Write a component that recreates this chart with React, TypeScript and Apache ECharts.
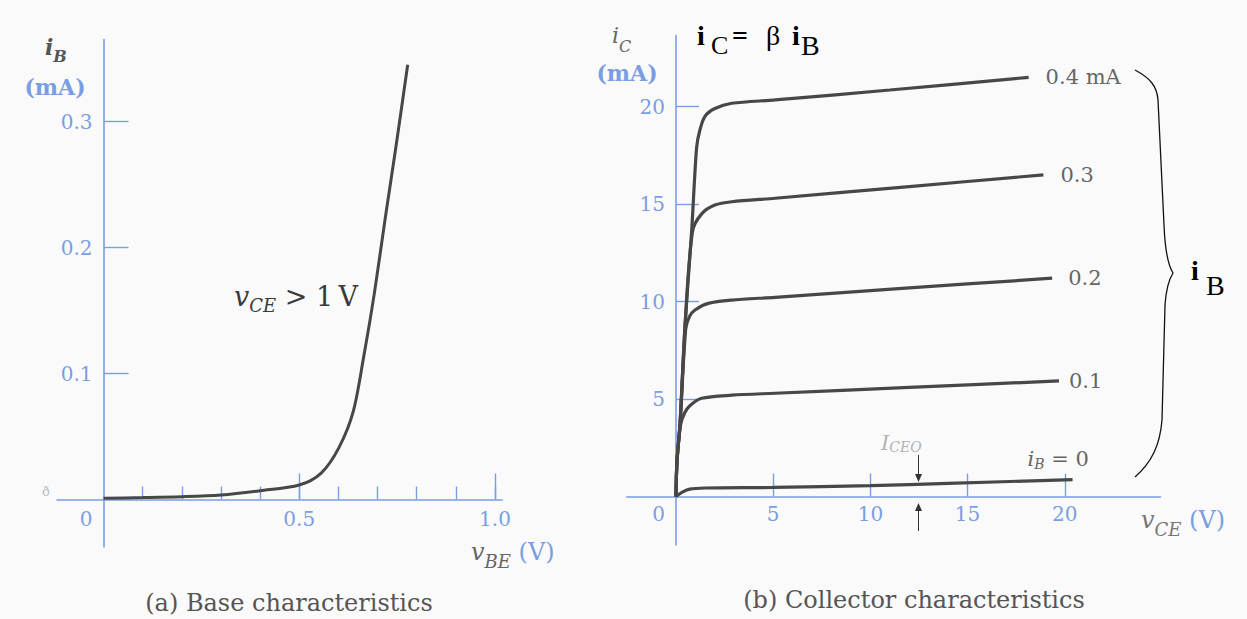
import React, { useEffect, useRef } from "react";
import * as echarts from "echarts";

// ---------- data ----------
// (a) Base characteristics: iB (mA) vs vBE (V)
const baseVBE = [0, 0.1, 0.2, 0.3, 0.4, 0.5, 0.556, 0.601, 0.638, 0.665, 0.692, 0.72, 0.747, 0.777];
const baseIB = [0.001, 0.0015, 0.0022, 0.0036, 0.007, 0.0115, 0.021, 0.041, 0.07, 0.114, 0.164, 0.224, 0.28, 0.345];
const baseXTicks = [0.1, 0.2, 0.3, 0.4, 0.5, 0.6, 0.7, 0.8, 0.9, 1.0];
const baseXMajorTicks = [0.5, 1.0];
const baseXLabels = [0, 0.5, 1.0];
const baseYTicks = [0.1, 0.2, 0.3];

// (b) Collector characteristics: iC (mA) vs vCE (V), one curve per iB
const vce04 = [0, 0.05, 0.21, 0.46, 0.81, 1.06, 1.23, 1.49, 2.0, 2.87, 5.1, 11, 18.14];
const ic04 = [0, 1.8, 3.76, 8.7, 13.7, 17.9, 18.8, 19.5, 19.9, 20.17, 20.34, 20.85, 21.5];
const vce03 = [0, 0.05, 0.21, 0.46, 0.85, 1.32, 2.0, 2.87, 5.1, 12, 18.9];
const ic03 = [0, 1.8, 3.76, 8.7, 13.6, 14.5, 14.95, 15.12, 15.3, 15.9, 16.5];
const vce02 = [0, 0.05, 0.21, 0.5, 0.7, 0.98, 1.66, 2.87, 5.1, 12, 19.35];
const ic02 = [0, 1.8, 3.76, 8.6, 9.25, 9.57, 9.91, 10.08, 10.22, 10.7, 11.2];
const vce01 = [0, 0.05, 0.24, 0.45, 0.7, 1.32, 2.87, 5.1, 12, 19.7];
const ic01 = [0, 1.8, 3.7, 4.3, 4.65, 5.04, 5.2, 5.3, 5.6, 5.93];
const vce00 = [0, 0.3, 0.7, 1.5, 5, 10, 14, 20.4];
const ic00 = [0, 0.22, 0.38, 0.44, 0.47, 0.56, 0.68, 0.87];
const collXTicks = [5, 10, 15, 20];
const collXLabels = [0, 5, 10, 15, 20];
const collYTicks = [5, 10, 15, 20];
const curveLabels = ["0.4 mA", "0.3", "0.2", "0.1", "{i|i}{s|B}{n| = 0}"];

// ---------- styles ----------
const BLUE = "#7a9ee2";
const INK = "#474747";
const SERIF = "'DejaVu Serif', 'Liberation Serif', serif";
const TIMES = "'Liberation Serif', 'Times New Roman', serif";

const BRACE =
  "M1135,70 C1150,78 1157,86 1158,100 L1164,225 C1165,250 1168,265 1173,273 C1168,281 1166,290 1165,305 L1162,420 C1160,445 1152,462 1135,477";
echarts.graphic.registerShape("brace", echarts.graphic.extendPath(BRACE, {}));

const zip = (xs: number[], ys: number[]) => xs.map((x, i) => [x, ys[i]]);

const blueLine = { color: BLUE, width: 1.6 };
const labelBase = { color: BLUE, fontFamily: SERIF, fontSize: 20 };

function buildOption(): any {
  const collectorData = [
    { v: vce04, i: ic04, dist: 17, off: [0, 0] },
    { v: vce03, i: ic03, dist: 17, off: [0, 0] },
    { v: vce02, i: ic02, dist: 16, off: [0, 0] },
    { v: vce01, i: ic01, dist: 10, off: [0, 0] },
    { v: vce00, i: ic00, dist: 5, off: [-50, -21] },
  ];

  const collectorSeries = collectorData.map((c, k) => ({
    type: "line",
    xAxisIndex: 2,
    yAxisIndex: 2,
    data: zip(c.v, c.i),
    smooth: 0.3,
    showSymbol: false,
    silent: true,
    lineStyle: { color: INK, width: 3.2 },
    endLabel: {
      show: true,
      formatter: curveLabels[k],
      distance: c.dist,
      offset: c.off,
      color: "#666",
      fontFamily: SERIF,
      fontSize: 21,
      rich: {
        i: { fontFamily: SERIF, fontSize: 21, fontStyle: "italic", color: "#666" },
        s: { fontFamily: SERIF, fontSize: 14, fontStyle: "italic", color: "#666", padding: [10, 0, 0, 0] },
        n: { fontFamily: SERIF, fontSize: 21, color: "#666" },
      },
    },
  }));

  const zeroRich = { z: { ...labelBase, padding: [0, 35, 0, 0] } };

  return {
    animation: false,
    backgroundColor: "#fafafa",
    grid: [
      { left: 57, top: 39.5, width: 445, height: 507.5 },
      { left: 57, top: 39.5, width: 445, height: 507.5 },
      { left: 626.8, top: 35.5, width: 533.8, height: 509.5 },
    ],
    xAxis: [
      {
        gridIndex: 0,
        type: "value",
        min: -0.1188,
        max: 1.0179,
        axisLine: { onZero: true, lineStyle: blueLine },
        axisTick: { inside: true, length: 13, customValues: baseXTicks, lineStyle: { color: BLUE, width: 1.4 } },
        axisLabel: {
          ...labelBase,
          customValues: baseXLabels,
          margin: -38.5,
          formatter: (v: number) => (v === 0 ? "{z|0}" : v.toFixed(1)),
          rich: zeroRich,
        },
        splitLine: { show: false },
      },
      {
        gridIndex: 1,
        type: "value",
        min: -0.1188,
        max: 1.0179,
        axisLine: { show: false, onZero: true },
        axisTick: { inside: true, length: 26, customValues: baseXMajorTicks, lineStyle: { color: BLUE, width: 1.4 } },
        axisLabel: { show: false },
        splitLine: { show: false },
      },
      {
        gridIndex: 2,
        type: "value",
        min: -2.531,
        max: 24.93,
        axisLine: { onZero: true, lineStyle: blueLine },
        axisTick: { inside: true, length: 23, customValues: collXTicks, lineStyle: { color: BLUE, width: 1.4 } },
        axisLabel: {
          ...labelBase,
          customValues: collXLabels,
          margin: -41.4,
          formatter: (v: number) => (v === 0 ? "{z|0}" : String(v)),
          rich: zeroRich,
        },
        splitLine: { show: false },
      },
    ],
    yAxis: [
      {
        gridIndex: 0,
        type: "value",
        min: -0.0377,
        max: 0.3651,
        axisLine: { onZero: true, lineStyle: blueLine },
        axisTick: { inside: true, length: 25, customValues: baseYTicks, lineStyle: { color: BLUE, width: 1.4 } },
        axisLabel: { ...labelBase, customValues: baseYTicks, margin: -35.5, formatter: (v: number) => v.toFixed(1) },
        splitLine: { show: false },
      },
      { gridIndex: 1, type: "value", min: -0.0377, max: 0.3651, show: false },
      {
        gridIndex: 2,
        type: "value",
        min: -2.482,
        max: 23.646,
        axisLine: { onZero: true, lineStyle: blueLine },
        axisTick: { inside: true, length: 23, customValues: collYTicks, lineStyle: { color: BLUE, width: 1.4 } },
        axisLabel: { ...labelBase, customValues: collYTicks, margin: -38.2 },
        splitLine: { show: false },
      },
    ],
    series: [
      {
        type: "line",
        xAxisIndex: 0,
        yAxisIndex: 0,
        data: zip(baseVBE, baseIB),
        smooth: 0.3,
        showSymbol: false,
        silent: true,
        lineStyle: { color: INK, width: 3 },
      },
      ...collectorSeries,
    ],
    graphic: [
      // ---- left panel texts ----
      {
        type: "text", x: 45, y: 47.4,
        style: {
          text: "{i|i}{s|B}", align: "left", verticalAlign: "middle",
          rich: {
            i: { fontFamily: SERIF, fontSize: 22, fontStyle: "italic", fontWeight: "bold", fill: "#555" },
            s: { fontFamily: SERIF, fontSize: 16, fontStyle: "italic", fontWeight: "bold", fill: "#555", padding: [18, 0, 0, 0] },
          },
        },
      },
      {
        type: "text", x: 55, y: 87,
        style: { text: "(mA)", fontFamily: SERIF, fontSize: 22, fontWeight: "bold", fill: BLUE, align: "center", verticalAlign: "middle" },
      },
      {
        type: "text", x: 471, y: 551.7,
        style: {
          text: "{v|v}{s|BE}{u| (V)}", align: "left", verticalAlign: "middle",
          rich: {
            v: { fontFamily: SERIF, fontSize: 24, fontStyle: "italic", fill: "#666" },
            s: { fontFamily: SERIF, fontSize: 18, fontStyle: "italic", fill: "#666", padding: [20, 0, 0, 0] },
            u: { fontFamily: SERIF, fontSize: 24, fill: BLUE },
          },
        },
      },
      {
        type: "text", x: 234, y: 296.7,
        style: {
          text: "{v|v}{s|CE}{n| > 1\u2009V}", align: "left", verticalAlign: "middle",
          rich: {
            v: { fontFamily: SERIF, fontSize: 27, fontStyle: "italic", fill: "#3a3a3a" },
            s: { fontFamily: SERIF, fontSize: 18, fontStyle: "italic", fill: "#3a3a3a", padding: [18, 0, 0, 0] },
            n: { fontFamily: SERIF, fontSize: 27, fill: "#3a3a3a" },
          },
        },
      },
      {
        type: "text", x: 46, y: 491,
        style: { text: "ð", fontFamily: SERIF, fontSize: 13, fill: "#bbb", align: "center", verticalAlign: "middle" },
      },
      {
        type: "text", x: 289, y: 603,
        style: { text: "(a) Base characteristics", fontFamily: SERIF, fontSize: 24, fill: "#555", align: "center", verticalAlign: "middle" },
      },
      // ---- right panel texts ----
      {
        type: "text", x: 612, y: 35.4,
        style: {
          text: "{i|i}{s|C}", align: "left", verticalAlign: "middle",
          rich: {
            i: { fontFamily: SERIF, fontSize: 22, fontStyle: "italic", fill: "#666" },
            s: { fontFamily: SERIF, fontSize: 16, fontStyle: "italic", fill: "#666", padding: [22, 0, 0, 0] },
          },
        },
      },
      {
        type: "text", x: 627, y: 73,
        style: { text: "(mA)", fontFamily: SERIF, fontSize: 22, fontWeight: "bold", fill: BLUE, align: "center", verticalAlign: "middle" },
      },
      {
        type: "text", x: 1141, y: 520,
        style: {
          text: "{v|v}{s|CE}{u| (V)}", align: "left", verticalAlign: "middle",
          rich: {
            v: { fontFamily: SERIF, fontSize: 24, fontStyle: "italic", fill: "#777" },
            s: { fontFamily: SERIF, fontSize: 18, fontStyle: "italic", fill: "#777", padding: [18, 0, 0, 0] },
            u: { fontFamily: SERIF, fontSize: 24, fill: BLUE },
          },
        },
      },
      {
        type: "text", x: 914, y: 600,
        style: { text: "(b) Collector characteristics", fontFamily: SERIF, fontSize: 24, fill: "#555", align: "center", verticalAlign: "middle" },
      },
      {
        type: "text", x: 881, y: 442.7,
        style: {
          text: "{i|I}{s|CEO}", align: "left", verticalAlign: "middle",
          rich: {
            i: { fontFamily: SERIF, fontSize: 21, fontStyle: "italic", fill: "#b3b3b3" },
            s: { fontFamily: SERIF, fontSize: 14, fontStyle: "italic", fill: "#b3b3b3", padding: [8, 0, 0, 0] },
          },
        },
      },
      // I_CEO arrows
      { type: "line", shape: { x1: 918.5, y1: 455, x2: 918.5, y2: 477 }, style: { stroke: "#333", lineWidth: 1 } },
      { type: "polygon", shape: { points: [[915, 474], [922, 474], [918.5, 482]] }, style: { fill: "#333" } },
      { type: "line", shape: { x1: 918.5, y1: 531, x2: 918.5, y2: 508 }, style: { stroke: "#333", lineWidth: 1 } },
      { type: "polygon", shape: { points: [[915, 511], [922, 511], [918.5, 503]] }, style: { fill: "#333" } },
      // formula iC = β iB
      { type: "text", x: 697, y: 35.5, style: { text: "i", fontFamily: TIMES, fontSize: 28, fontWeight: "bold", fill: "#000", align: "left", verticalAlign: "middle" } },
      { type: "text", x: 711, y: 45.6, style: { text: "C", fontFamily: TIMES, fontSize: 26, fill: "#000", align: "left", verticalAlign: "middle" } },
      { type: "text", x: 732, y: 35.5, style: { text: "=", fontFamily: TIMES, fontSize: 28, fontWeight: "bold", fill: "#000", align: "left", verticalAlign: "middle" } },
      { type: "text", x: 766, y: 35.5, style: { text: "β", fontFamily: TIMES, fontSize: 28, fill: "#000", align: "left", verticalAlign: "middle" } },
      { type: "text", x: 792, y: 35.5, style: { text: "i", fontFamily: TIMES, fontSize: 28, fontWeight: "bold", fill: "#000", align: "left", verticalAlign: "middle" } },
      { type: "text", x: 801, y: 45.5, style: { text: "B", fontFamily: TIMES, fontSize: 28, fill: "#000", align: "left", verticalAlign: "middle" } },
      // brace and iB
      { type: "brace", x: 0, y: 0, style: { stroke: "#111", fill: "none", lineWidth: 1.3 } },
      { type: "text", x: 1191, y: 270.5, style: { text: "i", fontFamily: TIMES, fontSize: 28, fontWeight: "bold", fill: "#000", align: "left", verticalAlign: "middle" } },
      { type: "text", x: 1206, y: 285.5, style: { text: "B", fontFamily: TIMES, fontSize: 28, fill: "#000", align: "left", verticalAlign: "middle" } },
    ],
  };
}

export default function App() {
  const ref = useRef<HTMLDivElement>(null);
  useEffect(() => {
    if (!ref.current) return;
    const chart = echarts.init(ref.current, undefined, { renderer: "svg" });
    chart.setOption(buildOption());
    return () => chart.dispose();
  }, []);
  return (
    <div
      ref={ref}
      style={{ position: "fixed", left: 0, top: 0, width: 1247, height: 619 }}
    />
  );
}
